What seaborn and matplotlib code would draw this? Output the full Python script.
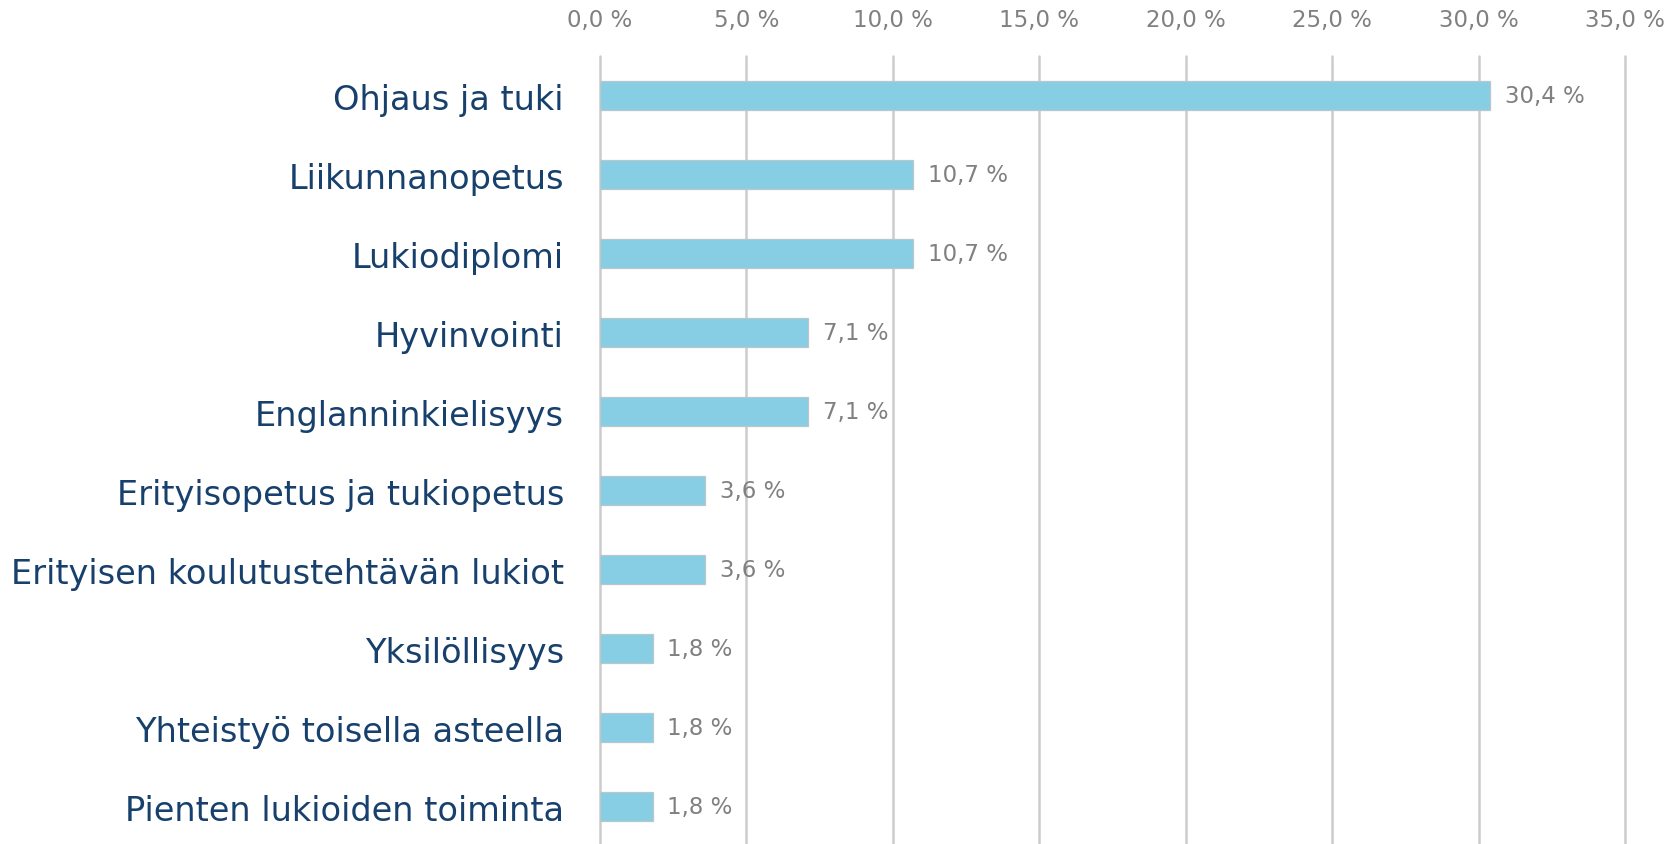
import matplotlib
matplotlib.use("Agg")
import matplotlib.pyplot as plt
import seaborn as sns
import pandas as pd

categories = [
    "Ohjaus ja tuki",
    "Liikunnanopetus",
    "Lukiodiplomi",
    "Hyvinvointi",
    "Englanninkielisyys",
    "Erityisopetus ja tukiopetus",
    "Erityisen koulutustehtävän lukiot",
    "Yksilöllisyys",
    "Yhteistyö toisella asteella",
    "Pienten lukioiden toiminta",
]
values = [30.4, 10.7, 10.7, 7.1, 7.1, 3.6, 3.6, 1.8, 1.8, 1.8]
xticks = [0, 5, 10, 15, 20, 25, 30, 35]

sns.set_theme(style="white")
plt.rcParams["font.family"] = ["DejaVu Sans"]

df = pd.DataFrame({"cat": categories, "val": values})

fig = plt.figure(figsize=(16.72, 8.45), dpi=100)
ax = fig.add_axes([600/1672, -6/845, (1625-600)/1672, (845 - 57 + 6)/845])

sns.barplot(data=df, x="val", y="cat", orient="h", color="#87CEE4",
            width=0.37, edgecolor="#b9c7cc", linewidth=0.9, saturation=1, ax=ax, zorder=3)

ax.set_xlim(0, 35)
ax.set_ylim(9.55, -0.5)
ax.set_xticks(xticks)
ax.set_xticklabels([f"{t:.1f}".replace(".", ",") + " %" for t in xticks])
ax.xaxis.tick_top()
ax.tick_params(axis="x", length=0, pad=18, labelsize=16.5, labelcolor="#808080")
ax.tick_params(axis="y", length=0, pad=26, labelsize=24.2, labelcolor="#17406D")
ax.set_xlabel("")
ax.set_ylabel("")
ax.grid(axis="x", color="#cccccc", linewidth=1.8, zorder=0)
ax.grid(axis="y", visible=False)
for line in ax.get_xgridlines():
    line.set_clip_on(False)
for s in ax.spines.values():
    s.set_visible(False)

for i, v in enumerate(values):
    ax.text(v + 0.5, i, f"{v:.1f}".replace(".", ",") + " %", va="center", ha="left",
            fontsize=16.5, color="#808080", zorder=4)

fig.savefig("out.png", dpi=100)
